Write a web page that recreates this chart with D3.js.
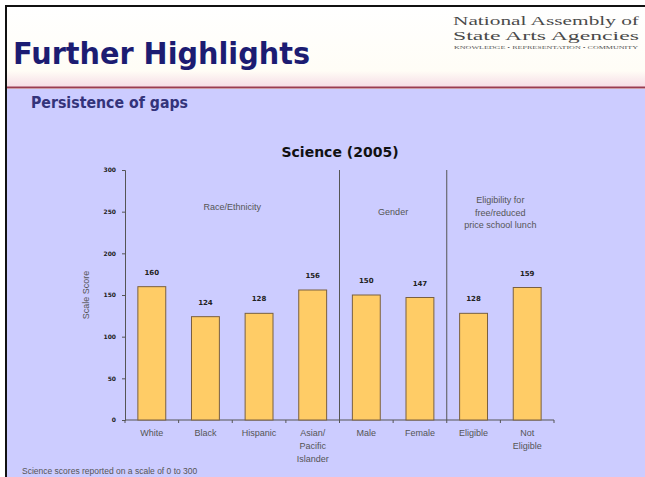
<!DOCTYPE html>
<html>
<head>
<meta charset="utf-8">
<script src="https://cdn.jsdelivr.net/npm/d3@7"></script>
<style>
  html, body { margin: 0; padding: 0; background: #fff; }
  svg { display: block; }
</style>
</head>
<body>
<div id="chart"></div>
<script>
// chart values
const categories = ['White', 'Black', 'Hispanic', 'Asian/Pacific Islander', 'Male', 'Female', 'Eligible', 'Not Eligible'];
const categoryLines = [['White'], ['Black'], ['Hispanic'], ['Asian/', 'Pacific', 'Islander'], ['Male'], ['Female'], ['Eligible'], ['Not', 'Eligible']];
const scores = [160, 124, 128, 156, 150, 147, 128, 159];
const groupNames = [['Race/Ethnicity'], ['Gender'], ['Eligibility for', 'free/reduced', 'price school lunch']];
const groupSizes = [4, 2, 2];
const yTicks = [0, 50, 100, 150, 200, 250, 300];

const W = 645, H = 477;
const svg = d3.select('#chart').append('svg')
    .attr('width', W)
    .attr('height', H);

const defs = svg.append('defs');
const grad = defs.append('linearGradient').attr('id', 'hdr')
    .attr('x1', 0).attr('y1', 0).attr('x2', 0).attr('y2', 1);
grad.append('stop').attr('offset', '0%').attr('stop-color', '#ffffff');
grad.append('stop').attr('offset', '80%').attr('stop-color', '#fffdf6');
grad.append('stop').attr('offset', '100%').attr('stop-color', '#f6dde6');

// slide background
svg.append('rect').attr('x', 0).attr('y', 0).attr('width', W).attr('height', H).attr('fill', '#ffffff');
svg.append('rect').attr('x', 7).attr('y', 6).attr('width', W).attr('height', 81).attr('fill', 'url(#hdr)');
svg.append('rect').attr('x', 7).attr('y', 89).attr('width', W).attr('height', H).attr('fill', '#ccccff');
svg.append('line').attr('x1', 7).attr('x2', W).attr('y1', 87.5).attr('y2', 87.5)
    .attr('stroke', '#9a3c52').attr('stroke-width', 2);
// frame
svg.append('line').attr('x1', 6).attr('x2', 6).attr('y1', 5).attr('y2', H).attr('stroke', '#111').attr('stroke-width', 2);
svg.append('line').attr('x1', 5).attr('x2', W).attr('y1', 6).attr('y2', 6).attr('stroke', '#111').attr('stroke-width', 2);

// header text
svg.append('text').attr('x', 13).attr('y', 64)
    .attr('font-family', 'DejaVu Sans, Verdana, sans-serif').attr('font-weight', 'bold')
    .attr('font-size', 30).attr('fill', '#1c1c72')
    .attr('textLength', 297).attr('lengthAdjust', 'spacingAndGlyphs')
    .text('Further Highlights');

const logo = svg.append('g').attr('font-family', 'Liberation Serif, Times New Roman, serif').attr('fill', '#4a4a4a');
logo.append('text').attr('x', 453).attr('y', 25).attr('font-size', 13)
    .attr('textLength', 186).attr('lengthAdjust', 'spacingAndGlyphs').text('National Assembly of');
logo.append('text').attr('x', 453).attr('y', 40).attr('font-size', 13)
    .attr('textLength', 186).attr('lengthAdjust', 'spacingAndGlyphs').text('State Arts Agencies');
logo.append('text').attr('x', 454).attr('y', 49).attr('font-size', 4).attr('fill', '#555')
    .attr('textLength', 184).attr('lengthAdjust', 'spacingAndGlyphs')
    .text('KNOWLEDGE \u2022 REPRESENTATION \u2022 COMMUNITY');

svg.append('text').attr('x', 31).attr('y', 108)
    .attr('font-family', 'DejaVu Sans, Verdana, sans-serif').attr('font-weight', 'bold')
    .attr('font-size', 16).attr('fill', '#33337a')
    .attr('textLength', 157).attr('lengthAdjust', 'spacingAndGlyphs')
    .text('Persistence of gaps');

// chart
const x = d3.scaleBand().domain(categories).range([125, 554]).paddingInner(0.48).paddingOuter(0.24);
const y = d3.scaleLinear().domain([0, 300]).range([420, 170]);

svg.append('text').attr('x', 340).attr('y', 157).attr('text-anchor', 'middle')
    .attr('font-family', 'DejaVu Sans, Verdana, sans-serif').attr('font-weight', 'bold')
    .attr('font-size', 14).attr('fill', '#111')
    .text('Science (2005)');

const yAxis = svg.append('g').attr('transform', 'translate(125,0)')
    .call(d3.axisLeft(y).tickValues(yTicks).tickSize(3).tickPadding(6));
yAxis.select('.domain').attr('stroke', '#555');
yAxis.selectAll('.tick line').attr('stroke', '#555');
yAxis.selectAll('.tick text').attr('font-family', 'DejaVu Sans, sans-serif')
    .attr('font-weight', 'bold').attr('font-size', 6).attr('fill', '#222');

svg.append('text')
    .attr('transform', `translate(89,${y(150)}) rotate(-90)`)
    .attr('text-anchor', 'middle')
    .attr('font-family', 'Liberation Sans, Arial, sans-serif').attr('font-size', 9).attr('fill', '#555')
    .text('Scale Score');

// x axis line with boundary ticks
const step = x.step();
const x0 = x.range()[0];
const xAxisG = svg.append('g').attr('stroke', '#555');
xAxisG.append('line').attr('x1', x0).attr('x2', x.range()[1]).attr('y1', y(0)).attr('y2', y(0));
xAxisG.selectAll('.tk').data(d3.range(categories.length + 1)).join('line')
    .attr('class', 'tk')
    .attr('x1', i => x0 + i * step).attr('x2', i => x0 + i * step)
    .attr('y1', y(0)).attr('y2', y(0) + 3);

// group dividers
let cum = 0;
const groupStart = groupSizes.map(n => { const s = cum; cum += n; return s; });
svg.selectAll('.divider').data(groupStart.slice(1)).join('line')
    .attr('class', 'divider')
    .attr('x1', i => x0 + i * step).attr('x2', i => x0 + i * step)
    .attr('y1', y(300)).attr('y2', y(0))
    .attr('stroke', '#555').attr('stroke-width', 1);

// group labels
const groupLabelY = [207, 212, 200];
groupNames.forEach((lines, gi) => {
    const cx = x0 + (groupStart[gi] + groupSizes[gi] / 2) * step;
    const t = svg.append('text').attr('text-anchor', 'middle')
        .attr('font-family', 'Liberation Sans, Arial, sans-serif').attr('font-size', 9).attr('fill', '#555');
    lines.forEach((ln, li) => {
        t.append('tspan').attr('x', cx).attr('y', groupLabelY[gi] + 3 + li * 12.5).text(ln);
    });
});

// bars
svg.selectAll('.bar').data(scores).join('rect')
    .attr('class', 'bar')
    .attr('x', (d, i) => x(categories[i]))
    .attr('y', d => y(d))
    .attr('width', x.bandwidth())
    .attr('height', d => y(0) - y(d))
    .attr('fill', '#ffcc66')
    .attr('stroke', '#7a6040').attr('stroke-width', 1);

svg.selectAll('.val').data(scores).join('text')
    .attr('class', 'val')
    .attr('x', (d, i) => x(categories[i]) + x.bandwidth() / 2)
    .attr('y', d => y(d) - 12)
    .attr('text-anchor', 'middle')
    .attr('font-family', 'DejaVu Sans, sans-serif').attr('font-weight', 'bold')
    .attr('font-size', 7).attr('fill', '#222')
    .text(d => d);

// category labels
categoryLines.forEach((lines, i) => {
    const t = svg.append('text').attr('text-anchor', 'middle')
        .attr('font-family', 'Liberation Sans, Arial, sans-serif').attr('font-size', 9).attr('fill', '#555');
    lines.forEach((ln, li) => {
        t.append('tspan').attr('x', x(categories[i]) + x.bandwidth() / 2)
            .attr('y', 436 + li * 13).text(ln);
    });
});

svg.append('text').attr('x', 22).attr('y', 474)
    .attr('font-family', 'Liberation Sans, Arial, sans-serif').attr('font-size', 8.5).attr('fill', '#555')
    .text('Science scores reported on a scale of 0 to 300');
</script>
</body>
</html>
